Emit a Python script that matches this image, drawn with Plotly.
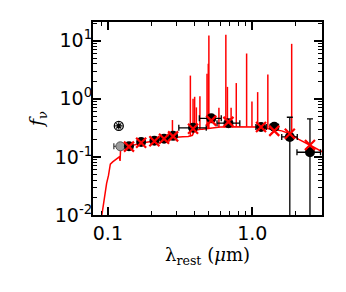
import plotly.graph_objects as go

# ---- model spectrum (continuum) ----
cont_wave = [0.086, 0.092, 0.095, 0.098, 0.101, 0.104, 0.108, 0.113, 0.117, 0.120,
             0.1215, 0.1225, 0.125, 0.13, 0.14, 0.155, 0.17, 0.19, 0.21, 0.24,
             0.27, 0.30, 0.33, 0.36, 0.385, 0.395, 0.41, 0.45, 0.50, 0.55,
             0.60, 0.70, 0.85, 1.0, 1.1, 1.2, 1.4, 1.6, 1.82, 2.1, 2.5, 3.0, 3.2]
cont_flux = [0.004, 0.012, 0.022, 0.035, 0.048, 0.075, 0.082, 0.088, 0.095, 0.100,
             0.085, 0.140, 0.150, 0.148, 0.152, 0.163, 0.172, 0.180, 0.187, 0.200,
             0.213, 0.220, 0.222, 0.224, 0.235, 0.27, 0.29, 0.30, 0.31, 0.32,
             0.325, 0.33, 0.33, 0.33, 0.325, 0.315, 0.30, 0.28, 0.25, 0.20, 0.16, 0.125, 0.115]

# ---- emission lines ----
line_wave = [0.280, 0.3727, 0.389, 0.399, 0.410, 0.434, 0.4861, 0.4959, 0.5007, 0.5876,
             0.6563, 0.673, 0.7136, 0.7751, 0.914, 0.995, 1.09, 1.282, 1.875]
line_base = [0.215, 0.226, 0.25, 0.27, 0.29, 0.295, 0.305, 0.307, 0.31, 0.322,
             0.327, 0.328, 0.33, 0.33, 0.33, 0.33, 0.326, 0.31, 0.25]
line_peak = [0.43, 2.5, 1.0, 1.08, 0.71, 1.1, 2.7, 4.0, 12.2, 0.70,
             12.6, 1.6, 0.70, 1.86, 6.0, 0.90, 1.3, 2.6, 8.8]

# ---- observed photometry ----
phot_wave = [0.140, 0.170, 0.210, 0.245, 0.283, 0.389, 0.520, 0.684, 1.15, 1.42, 1.82, 2.51]
phot_flux = [0.152, 0.180, 0.190, 0.205, 0.230, 0.316, 0.460, 0.380, 0.326, 0.330, 0.220, 0.120]
phot_xlo = [0.0, 0.0, 0.0, 0.0, 0.0, 0.079, 0.09, 0.114, 0.09, 0.09, 0.22, 0.47]
phot_xhi = [0.0, 0.0, 0.0, 0.0, 0.0, 0.091, 0.09, 0.136, 0.10, 0.10, 0.23, 0.46]
phot_ylo = [0.0, 0.0, 0.0, 0.0, 0.0, 0.0, 0.0, 0.0, 0.0, 0.0, 0.2199, 0.1199]
phot_yhi = [0.0, 0.0, 0.0, 0.0, 0.0, 0.0, 0.0, 0.0, 0.0, 0.0, 0.26, 0.33]

# ---- model photometry ----
model_flux = [0.150, 0.175, 0.185, 0.205, 0.225, 0.305, 0.420, 0.400, 0.326, 0.280, 0.250, 0.160]

# ---- special points ----
grey_wave = [0.122]
grey_flux = [0.152]
grey_xlo = [0.012]
grey_xhi = [0.008]
star_wave = [0.119]
star_flux = [0.34]

RED = "#ff0000"
fig = go.Figure()

fig.add_trace(go.Scatter(x=cont_wave, y=cont_flux, mode="lines",
                         line=dict(color=RED, width=1.5), showlegend=False))

lx, ly = [], []
for w, b, p in zip(line_wave, line_base, line_peak):
    lx += [w, w, None]
    ly += [b, p, None]
fig.add_trace(go.Scatter(x=lx, y=ly, mode="lines",
                         line=dict(color=RED, width=1.5), showlegend=False))

fig.add_trace(go.Scatter(
    x=grey_wave, y=grey_flux, mode="markers",
    marker=dict(symbol="circle", size=9, color="#9a9a9a", line=dict(color="#555", width=1)),
    error_x=dict(type="data", symmetric=False, array=grey_xhi, arrayminus=grey_xlo,
                 color="#444", thickness=1.3, width=3),
    showlegend=False))

fig.add_trace(go.Scatter(
    x=phot_wave, y=phot_flux, mode="markers",
    marker=dict(symbol="circle", size=10, color="black"),
    error_x=dict(type="data", symmetric=False, array=phot_xhi, arrayminus=phot_xlo,
                 color="black", thickness=1.3, width=3),
    error_y=dict(type="data", symmetric=False, array=phot_yhi, arrayminus=phot_ylo,
                 color="black", thickness=1.3, width=3),
    showlegend=False))

fig.add_trace(go.Scatter(
    x=star_wave, y=star_flux, mode="markers",
    marker=dict(symbol="circle-open", size=9, color="black", line=dict(width=1.3)),
    showlegend=False))
fig.add_trace(go.Scatter(
    x=star_wave, y=star_flux, mode="markers",
    marker=dict(symbol="asterisk-open", size=6, color="black", line=dict(width=1.2)),
    showlegend=False))

fig.add_trace(go.Scatter(
    x=phot_wave, y=model_flux, mode="markers",
    marker=dict(symbol="x-thin-open", size=10, color=RED, line=dict(color=RED, width=2.2)),
    showlegend=False))

x_major = [0.1, 1.0]
x_major_text = ["0.1", "1.0"]
x_minor = [0.08, 0.09, 0.2, 0.3, 0.4, 0.5, 0.6, 0.7, 0.8, 0.9, 2.0, 3.0]
y_major = [0.01, 0.1, 1, 10]
y_major_text = ["10<sup>-2</sup>", "10<sup>-1</sup>", "10<sup>0</sup>", "10<sup>1</sup>"]
y_minor = [m * d for d in (0.01, 0.1, 1, 10) for m in range(2, 10)]

axis_common = dict(showline=True, linecolor="black", linewidth=2, mirror="allticks",
                   ticks="inside", ticklen=8, tickwidth=1.5, tickcolor="black",
                   showgrid=False, zeroline=False, automargin=False,
                   tickfont=dict(family="DejaVu Sans", size=19, color="black"))

fig.update_xaxes(type="log", range=[-1.103, 0.483], tickmode="array",
                 tickvals=x_major, ticktext=x_major_text,
                 minor=dict(ticks="inside", ticklen=4, tickwidth=1.2, tickcolor="black",
                            tickmode="array", tickvals=x_minor, showgrid=False),
                 title=dict(text="λ<sub>rest</sub> (<i>μ</i>m)", standoff=4,
                            font=dict(family="DejaVu Serif", size=18, color="black")),
                 **axis_common)
fig.update_yaxes(type="log", range=[-2, 1.32], tickmode="array",
                 tickvals=y_major, ticktext=y_major_text, ticklabelstandoff=-5,
                 minor=dict(ticks="inside", ticklen=4, tickwidth=1.2, tickcolor="black",
                            tickmode="array", tickvals=y_minor, showgrid=False),
                 title=dict(text="<i>f</i><sub>ν</sub>", standoff=6,
                            font=dict(family="DejaVu Serif", size=19, color="black")),
                 **axis_common)

# the page body adds an 8px offset; the margins below place the frame at the reference spot
fig.update_layout(width=338, height=284, margin=dict(l=85, r=24, t=14, b=77),
                  paper_bgcolor="white", plot_bgcolor="white")

fig.write_html("out.html")
